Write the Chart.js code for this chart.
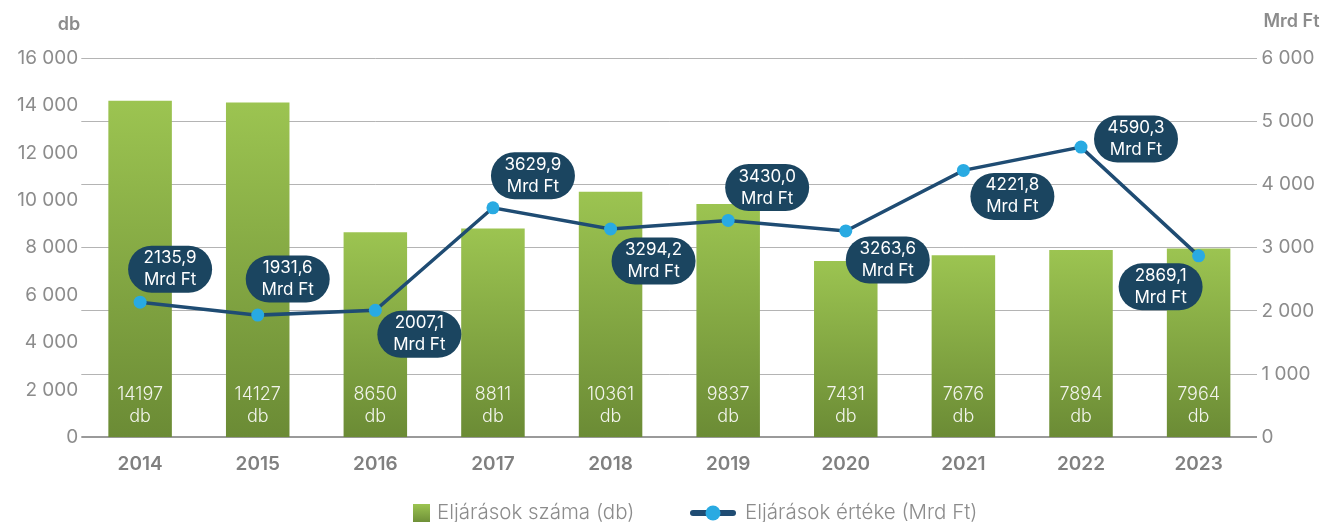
<!DOCTYPE html>
<html>
<head>
<meta charset="utf-8">
<script src="https://cdn.jsdelivr.net/npm/chart.js@4.4.1/dist/chart.umd.min.js"></script>
<style>
  html, body { margin: 0; padding: 0; background: #fff; overflow: hidden; }
  #wrap { width: 1335px; height: 522px; }
</style>
</head>
<body>
<div id="wrap"><canvas id="chart"></canvas></div>
<script>
// Data
const years = ["2014", "2015", "2016", "2017", "2018", "2019", "2020", "2021", "2022", "2023"];
const counts = [14197, 14127, 8650, 8811, 10361, 9837, 7431, 7676, 7894, 7964];
const amounts = [2135.9, 1931.6, 2007.1, 3629.9, 3294.2, 3430.0, 3263.6, 4221.8, 4590.3, 2869.1];
const seriesNames = ["Eljárások száma (db)", "Eljárások értéke (Mrd Ft)"];

// where each value pill sits relative to its point (px)
const pillOffsets = [
  [30, -33], [30, -36], [44, 24], [40, -32], [43, 32],
  [39, -33], [42, 29], [49, 26], [55, -8], [-38, 31],
];

const greyText = "#8c8c8c";
const navy = "#1b4560";
const lineColor = "#1f4c73";
const dotColor = "#29aae2";
const fontFam = "Inter, 'Noto Sans', sans-serif";

const fmtThousands = (v) => String(v).replace(/\B(?=(\d{3})+(?!\d))/g, " ");
const fmtDecimal = (v) => v.toFixed(1).replace(".", ",");

// bar fill: light green at the top of each bar, darker at the base
const barFill = (context) => {
  const chart = context.chart;
  const y = chart.scales.y;
  if (!chart.chartArea || !y || context.dataIndex === undefined) return "#8db148";
  const top = y.getPixelForValue(counts[context.dataIndex]);
  const base = y.getPixelForValue(0);
  const g = chart.ctx.createLinearGradient(0, top, 0, base);
  g.addColorStop(0, "#9cc451");
  g.addColorStop(1, "#6b8b35");
  return g;
};

// value labels inside the bars + pills on the line + axis unit titles + legend
const labelsPlugin = {
  id: "labels",
  afterDatasetsDraw(chart) {
    const ctx = chart.ctx;
    ctx.save();
    ctx.textAlign = "center";
    ctx.textBaseline = "middle";

    // bar labels
    const bars = chart.getDatasetMeta(1).data;
    const base = chart.scales.y.getPixelForValue(0);
    ctx.fillStyle = "#f2f4ec";
    ctx.font = "300 18px " + fontFam;
    bars.forEach((b, i) => {
      ctx.fillText(String(counts[i]), b.x, base - 43);
      ctx.fillText("db", b.x, base - 21);
    });

    // line pills
    const pts = chart.getDatasetMeta(0).data;
    const w = 84, h = 47, r = 23.5;
    pts.forEach((p, i) => {
      const cx = p.x + pillOffsets[i][0];
      const cy = p.y + pillOffsets[i][1];
      ctx.fillStyle = navy;
      ctx.beginPath();
      ctx.roundRect(cx - w / 2, cy - h / 2, w, h, r);
      ctx.fill();
      ctx.fillStyle = "#ffffff";
      ctx.font = "400 17px " + fontFam;
      ctx.fillText(fmtDecimal(amounts[i]), cx, cy - 11);
      ctx.fillText("Mrd Ft", cx, cy + 11);
    });

    // unit titles
    ctx.fillStyle = greyText;
    ctx.font = "600 18px " + fontFam;
    ctx.textAlign = "right";
    ctx.fillText("db", chart.scales.y.right - 1, 25);
    ctx.textAlign = "left";
    ctx.fillText("Mrd Ft", chart.scales.y1.left + 6, 22);

    // legend
    const ly = 513;
    const sq = ctx.createLinearGradient(0, ly - 9, 0, ly + 9);
    sq.addColorStop(0, "#9cc451");
    sq.addColorStop(1, "#6f9038");
    ctx.fillStyle = sq;
    ctx.fillRect(413, ly - 9, 17, 18);
    ctx.fillStyle = greyText;
    ctx.font = "300 20.5px " + fontFam;
    ctx.fillText(seriesNames[0], 437, ly);

    ctx.strokeStyle = lineColor;
    ctx.lineWidth = 6;
    ctx.lineCap = "round";
    ctx.beginPath();
    ctx.moveTo(693, ly);
    ctx.lineTo(733, ly);
    ctx.stroke();
    ctx.fillStyle = dotColor;
    ctx.beginPath();
    ctx.arc(713, ly, 7.5, 0, Math.PI * 2);
    ctx.fill();
    ctx.fillStyle = greyText;
    ctx.fillText(seriesNames[1], 745, ly);
    ctx.restore();
  },
};

new Chart(document.getElementById("chart"), {
  data: {
    labels: years,
    datasets: [
      {
        type: "line",
        label: seriesNames[1],
        data: amounts,
        yAxisID: "y1",
        borderColor: lineColor,
        borderWidth: 3.5,
        pointBackgroundColor: dotColor,
        pointBorderWidth: 0,
        pointRadius: 6.5,
        tension: 0,
        order: 0,
      },
      {
        type: "bar",
        label: seriesNames[0],
        data: counts,
        yAxisID: "y",
        backgroundColor: barFill,
        barPercentage: 0.54,
        categoryPercentage: 1,
        order: 1,
      },
    ],
  },
  options: {
    responsive: true,
    maintainAspectRatio: false,
    animation: false,
    layout: { padding: { top: 58, left: 14, right: 16, bottom: 30 } },
    scales: {
      x: {
        grid: { display: false, drawTicks: false },
        border: { display: false },
        ticks: { color: "#808080", font: { family: fontFam, size: 19, weight: "600" }, padding: 16 },
      },
      y: {
        position: "left",
        min: 0,
        max: 16000,
        ticks: {
          stepSize: 2000,
          color: greyText,
          padding: 3,
          font: { family: fontFam, size: 19, weight: "400" },
          callback: (v) => fmtThousands(v),
        },
        grid: { display: false, drawTicks: false },
        border: { display: false },
      },
      y1: {
        position: "right",
        min: 0,
        max: 6000,
        ticks: {
          stepSize: 1000,
          color: greyText,
          padding: 4,
          font: { family: fontFam, size: 19, weight: "400" },
          callback: (v) => fmtThousands(v),
        },
        grid: {
          color: (c) => (c.tick && c.tick.value === 0 ? "#9a9a9a" : "#b4b4b4"),
          lineWidth: (c) => (c.tick && c.tick.value === 0 ? 2 : 1),
          drawTicks: false,
        },
        border: { display: false },
      },
    },
    plugins: {
      tooltip: { enabled: false },
      legend: { display: false },
    },
  },
  plugins: [labelsPlugin],
});
</script>
</body>
</html>
